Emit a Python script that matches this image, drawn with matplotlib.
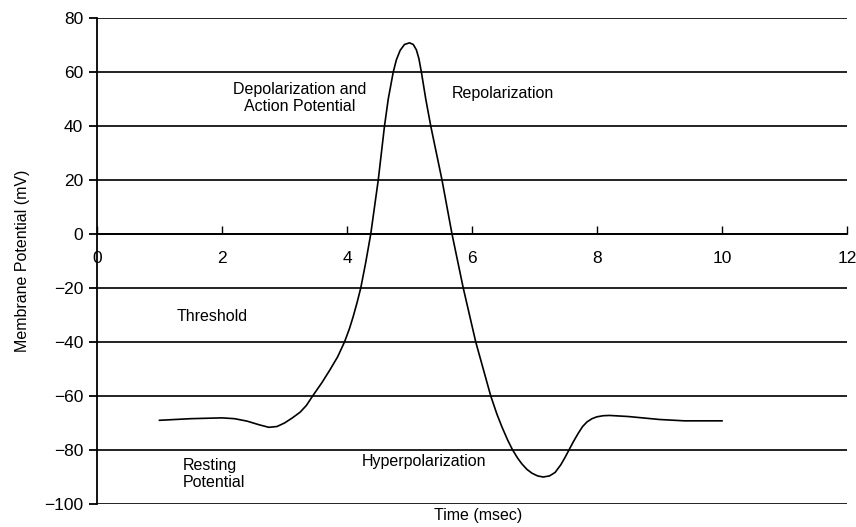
import matplotlib
matplotlib.use("Agg")
import matplotlib.pyplot as plt
from matplotlib import font_manager

# ---- data ----
time_ms = [1.0, 1.5, 2.0, 2.2, 2.4, 2.6, 2.75, 2.88, 3.0, 3.12, 3.25, 3.35,
           3.45, 3.6, 3.73, 3.85, 3.96, 4.04, 4.1, 4.16, 4.22, 4.3, 4.38,
           4.44, 4.5, 4.55, 4.6, 4.66, 4.74, 4.79, 4.85, 4.92, 5.0, 5.06,
           5.11, 5.15, 5.19, 5.26, 5.34, 5.43, 5.52, 5.6, 5.68, 5.77, 5.86,
           5.96, 6.06, 6.18, 6.3, 6.4, 6.48, 6.57, 6.65, 6.73, 6.8, 6.88,
           6.96, 7.05, 7.14, 7.24, 7.33, 7.42, 7.49, 7.54, 7.62, 7.7, 7.77,
           7.84, 7.92, 8.0, 8.1, 8.2, 8.5, 9.0, 9.4, 10.0]
potential_mv = [-69.0, -68.4, -68.1, -68.4, -69.3, -70.7, -71.6, -71.3, -70.0,
                -68.2, -66.0, -63.5, -60.0, -55.0, -50.2, -45.5, -40.0, -35.0,
                -30.5, -25.5, -20.0, -10.5, 0.0, 10.0, 20.0, 30.0, 40.0, 50.0,
                60.0, 64.5, 68.0, 70.2, 70.8, 70.2, 68.2, 65.0, 60.0, 50.0,
                40.0, 30.0, 20.0, 10.0, 0.0, -10.0, -20.0, -30.0, -40.0,
                -50.0, -60.0, -66.8, -71.5, -76.3, -80.0, -83.0, -85.2, -87.2,
                -88.6, -89.6, -90.0, -89.6, -88.3, -85.5, -82.7, -80.5, -77.0,
                -73.8, -71.3, -69.6, -68.4, -67.7, -67.3, -67.2, -67.6, -68.7,
                -69.2, -69.2]
x_ticks = [0, 2, 4, 6, 8, 10, 12]
y_ticks = [80, 60, 40, 20, 0, -20, -40, -60, -80, -100]

labels = ["Depolarization and\nAction Potential", "Repolarization", "Threshold",
          "Resting\nPotential", "Hyperpolarization"]
label_x = [3.25, 6.5, 1.28, 1.38, 4.24]
label_y = [50.5, 52.0, -30.5, -89.0, -84.4]
label_ha = ["center", "center", "left", "left", "left"]

names = {f.name for f in font_manager.fontManager.ttflist}
fam = ["Liberation Sans Narrow", "DejaVu Sans"] if "Liberation Sans Narrow" in names else ["Liberation Sans", "DejaVu Sans"]
plt.rcParams["font.family"] = fam

fig = plt.figure(figsize=(8.56, 5.27), dpi=100)
ax = fig.add_axes([97/856, 23/527, 750/856, 486/527])

ax.set_xlim(0, 12)
ax.set_ylim(-100, 80)

for yv in y_ticks:
    ax.axhline(yv, color="#111111", lw=1.3, zorder=1)

ax.plot(time_ms, potential_mv, color="black", lw=1.2, zorder=3,
        solid_joinstyle="round", antialiased=True)

for s in ["top", "right"]:
    ax.spines[s].set_visible(False)
ax.spines["left"].set_linewidth(1.3)
ax.spines["bottom"].set_position(("data", 0))
ax.spines["bottom"].set_linewidth(1.3)

ax.set_yticks(y_ticks)
ax.set_yticklabels([str(v).replace("-", "\u2212") for v in y_ticks])
ax.set_xticks(x_ticks)
ax.set_xticklabels([str(v) for v in x_ticks])
ax.tick_params(axis="y", direction="out", length=6, width=1.3, labelsize=12.5, pad=4)
ax.tick_params(axis="x", direction="in", length=6, width=1.0, labelsize=12.5, pad=12)

ax.set_ylabel("Membrane Potential (mV)", fontsize=11.5, labelpad=10)
ax.text(6.1, -101.5, "Time (msec)", ha="center", va="top", fontsize=11.5)

for t, xv, yv, ha in zip(labels, label_x, label_y, label_ha):
    ax.text(xv, yv, t, ha=ha, va="center", fontsize=11.5, linespacing=1.15, zorder=4)

fig.savefig("out.png", dpi=100)
